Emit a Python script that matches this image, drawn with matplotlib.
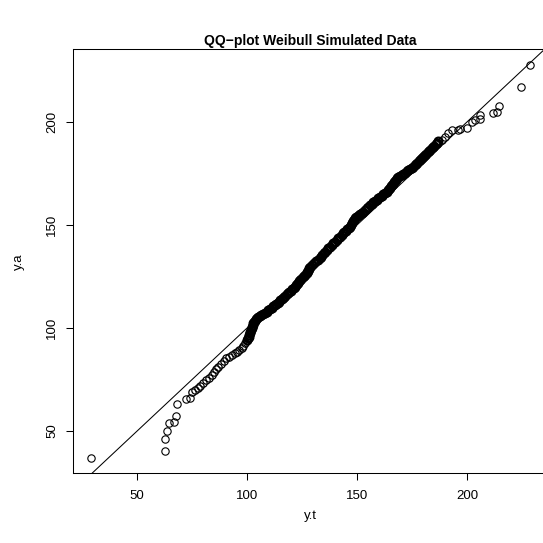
import matplotlib
matplotlib.use('Agg')
import matplotlib.pyplot as plt

plt.rcParams['font.family'] = ['Liberation Sans', 'DejaVu Sans']

# lower tail (theoretical y.t, observed y.a)
tail_t = [29.0, 62.6, 62.7, 63.5, 64.5, 66.8, 67.6, 68.2, 72.1, 73.9]
tail_a = [37.1, 40.3, 46.1, 50.0, 53.7, 54.2, 57.3, 62.9, 65.5, 66.2]

# body of the sample, read along the band of points
body_t = [75.0, 76.2, 77.5, 78.7, 80.0, 81.3, 82.5, 83.8, 84.8, 85.8,
          86.8, 88.1, 89.3, 90.6, 91.9, 93.1, 94.4, 95.4, 96.5, 97.5,
          98.3, 99.2,
          100.0, 100.3, 100.6, 100.9, 101.2, 101.5, 101.7, 102.0, 102.2, 102.5,
          102.7, 103.2, 103.6, 104.1, 104.5, 105.0, 105.8, 106.5, 107.3, 108.0,
          108.8, 109.6, 110.3, 111.1, 111.8, 112.6, 113.2, 113.8, 114.4, 115.0,
          115.6, 116.2, 116.8, 117.4, 118.0, 118.6, 119.2, 119.8, 120.5, 121.1,
          121.7, 122.2, 122.6, 123.1, 123.5, 124.0, 124.6, 125.2, 125.8, 126.4,
          127.0, 127.3, 127.6, 127.9, 128.2, 128.5, 129.4, 130.3, 131.2, 132.1,
          133.0, 133.6, 134.2, 134.9, 135.5, 136.1, 136.9, 137.6, 138.4, 139.1,
          139.9, 140.6, 141.4, 142.1, 142.9, 143.6, 144.2, 144.8, 145.5, 146.1,
          146.7, 147.2, 147.6, 148.1, 148.5, 149.0, 149.6, 150.2, 150.8, 151.4,
          152.0, 152.8, 153.5, 154.3, 155.0, 155.8, 156.5, 157.3, 158.0, 158.8,
          159.5, 160.3, 161.1, 161.8, 162.6, 163.4, 163.8, 164.3, 164.7, 165.2,
          165.6, 166.1, 166.5, 167.0, 167.4, 167.9, 168.7, 169.4, 170.2, 170.9,
          171.7, 172.5, 173.2, 174.0, 174.7, 175.5, 176.1, 176.7, 177.3, 177.9,
          178.5, 179.0, 179.4, 179.9, 180.3, 180.8, 181.4, 182.0, 182.6, 183.2,
          183.8, 184.4, 185.0, 185.6, 186.2, 186.8]
body_a = [68.8, 69.9, 71.0, 72.0, 73.1, 74.5, 75.8, 77.2, 78.5, 79.9,
          81.2, 82.6, 83.9, 85.3, 86.1, 86.9, 87.7, 88.5, 89.3, 90.1,
          91.4, 92.8,
          94.1, 94.9, 95.7, 96.6, 97.4, 98.2, 99.0, 99.8, 100.6, 101.4,
          102.2, 102.8, 103.5, 104.1, 104.8, 105.4, 105.9, 106.4, 106.9, 107.4,
          107.9, 108.5, 109.2, 109.8, 110.5, 111.1, 111.7, 112.2, 112.8, 113.3,
          113.9, 114.5, 115.1, 115.6, 116.2, 116.8, 117.4, 118.1, 118.7, 119.4,
          120.0, 120.6, 121.3, 121.9, 122.6, 123.2, 123.9, 124.5, 125.2, 125.8,
          126.5, 127.1, 127.8, 128.4, 129.1, 129.7, 130.5, 131.3, 132.2, 133.0,
          133.8, 134.6, 135.4, 136.2, 137.0, 137.8, 138.6, 139.4, 140.2, 141.0,
          141.8, 142.6, 143.4, 144.3, 145.1, 145.9, 146.5, 147.2, 147.8, 148.5,
          149.1, 149.9, 150.7, 151.6, 152.4, 153.2, 153.7, 154.2, 154.6, 155.1,
          155.6, 156.4, 157.2, 158.0, 158.8, 159.6, 160.3, 160.9, 161.6, 162.2,
          162.9, 163.5, 164.2, 164.8, 165.5, 166.1, 166.7, 167.4, 168.0, 168.7,
          169.3, 170.0, 170.6, 171.3, 171.9, 172.6, 173.1, 173.7, 174.2, 174.8,
          175.3, 175.9, 176.5, 177.0, 177.6, 178.2, 178.8, 179.5, 180.1, 180.8,
          181.4, 181.9, 182.4, 182.9, 183.4, 183.9, 184.5, 185.2, 185.8, 186.5,
          187.1, 187.8, 188.4, 189.1, 189.7, 190.4]

# upper tail
upper_t = [188.4, 189.9, 191.4, 192.9, 195.9, 196.7, 200.0, 202.0, 203.5,
           205.8, 205.8, 211.5, 213.4, 214.5, 224.4, 228.5]
upper_a = [191.1, 192.7, 194.4, 196.0, 196.0, 196.3, 197.1, 200.0, 200.8,
           201.3, 203.2, 204.1, 204.8, 207.6, 217.0, 227.5]

y_t = tail_t + body_t + upper_t
y_a = tail_a + body_a + upper_a

fig = plt.figure(figsize=(5.43, 5.43), dpi=100)
ax = fig.add_axes([0.135, 0.1284, 0.8735, 0.7808])

# heavier rings in the dense middle so the band reads solid like the original
n_tail = len(tail_t)
n_body = len(body_t)
ax.plot(y_t[:n_tail], y_a[:n_tail], linestyle='none', marker='o', markersize=5.3,
        markerfacecolor='none', markeredgecolor='black', markeredgewidth=0.8)
ax.plot(y_t[n_tail:n_tail + 22], y_a[n_tail:n_tail + 22], linestyle='none',
        marker='o', markersize=5.3, markerfacecolor='none',
        markeredgecolor='black', markeredgewidth=0.9)
ax.plot(y_t[n_tail + 22:n_tail + n_body], y_a[n_tail + 22:n_tail + n_body],
        linestyle='none', marker='o', markersize=5.6, markerfacecolor='none',
        markeredgecolor='black', markeredgewidth=1.6)
ax.plot(upper_t, upper_a, linestyle='none', marker='o', markersize=5.3,
        markerfacecolor='none', markeredgecolor='black', markeredgewidth=0.8)
ax.axline((0, 0), slope=1, color='black', linewidth=0.75)

# R-like axis ranges (4% padding)
ax.set_xlim(21.0, 236.5)
ax.set_ylim(29.5, 235.1)

ax.set_xticks([50, 100, 150, 200])
ax.set_yticks([50, 100, 150, 200])
ax.tick_params(direction='out', length=5, width=0.75, labelsize=9.5, pad=7)
ax.tick_params(axis='y', pad=6)
plt.setp(ax.get_yticklabels(), rotation=90, va='center')

for s in ax.spines.values():
    s.set_linewidth(0.75)

ax.set_xlabel('y.t', fontsize=9.5, labelpad=6)
ax.set_ylabel('y.a', fontsize=9.5, labelpad=15)
ax.set_title('QQ\u2212plot Weibull Simulated Data', fontsize=10,
             fontweight='bold', pad=3)

plt.savefig('out.png', dpi=100)
